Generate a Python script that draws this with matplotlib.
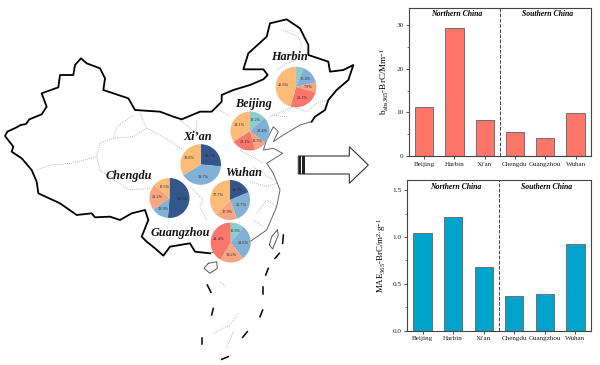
import numpy as np
import matplotlib
matplotlib.use('Agg')
import matplotlib.pyplot as plt
from matplotlib.patches import Polygon

plt.rcParams['font.family'] = 'Liberation Serif'
plt.rcParams['mathtext.fontset'] = 'custom'
plt.rcParams['mathtext.rm'] = 'Liberation Serif'
plt.rcParams['mathtext.it'] = 'Liberation Serif:italic'
plt.rcParams['mathtext.bf'] = 'Liberation Serif:bold'

# bar data
cities = ['Beijing', 'Harbin', "Xi'an", 'Chengdu', 'Guangzhou', 'Wuhan']
babs = [11.3, 29.3, 8.2, 5.4, 4.2, 9.9]
mae = [1.045, 1.21, 0.68, 0.37, 0.39, 0.93]

# pie data, clockwise from 12 o'clock
harbin_vals = [6.0, 15.4, 7.9, 25.1, 45.6]
harbin_lbls = ['', '15.4%', '7.9%', '25.1%', '45.6%']
beijing_vals = [13.2, 22.4, 10.2, 20.1, 34.1]
beijing_lbls = ['13.2%', '22.4%', '10.3%', '20.1%', '34.1%']
xian_vals = [26.5, 39.7, 33.8]
xian_lbls = ['25.7%', '39.7%', '33.8%']
chengdu_vals = [51.3, 13.9, 21.2, 13.6]
chengdu_lbls = ['51.3%', '13.9%', '21.2%', '13.6%']
wuhan_vals = [18.7, 25.7, 17.9, 37.7]
wuhan_lbls = ['18.7%', '25.7%', '17.9%', '37.7%']
guangzhou_vals = [10.9, 28.6, 19.2, 41.4]
guangzhou_lbls = ['10.9%', '28.6%', '19.2%', '41.4%']

NAVY, BLUE, TEAL = '#34568B', '#82B1D5', '#8ACFCB'
SALMON, RED, ORANGE = '#F7A582', '#F9766A', '#FDBB78'

# map outlines, in units of 1/3 pixel
border = [(630, 760), (585, 755), (570, 730), (510, 740), (490, 767), (465, 745), (440, 725), (425, 710), (445, 660),
          (435, 630), (395, 640), (360, 660), (330, 650), (285, 652), (275, 640), (230, 645), (180, 610), (115, 580),
          (110, 545), (95, 510), (65, 475), (35, 455), (40, 440), (15, 408), (22, 395), (50, 382), (62, 375), (78, 372),
          (88, 358), (125, 343), (140, 320), (125, 280), (175, 262), (180, 225), (220, 225), (225, 195), (243, 175),
          (260, 190), (300, 205), (315, 235), (310, 270), (385, 295), (405, 330), (480, 335), (520, 350), (545, 358),
          (600, 335), (635, 335), (665, 305), (665, 285), (700, 270), (750, 255), (790, 238), (803, 225), (790, 208),
          (730, 208), (745, 160), (800, 110), (810, 70), (860, 58), (900, 85), (925, 135), (925, 165), (985, 185),
          (990, 215), (1030, 210), (1060, 195), (1045, 240), (1010, 270), (985, 300), (975, 330), (945, 350), (935, 365)]
coast = [(935, 365), (900, 375), (850, 405), (820, 425), (835, 395), (820, 380), (800, 420), (790, 450), (820, 445),
         (848, 460), (800, 490), (820, 520), (840, 570), (830, 620), (800, 690), (750, 725), (680, 745), (630, 760)]
taiwan = [(832, 690), (815, 710), (808, 735), (818, 747), (835, 705), (832, 690)]
hainan = [(625, 790), (650, 785), (652, 805), (630, 820), (612, 805), (625, 790)]
dashes = [[(850, 705), (848, 730)], [(838, 760), (825, 775)], [(805, 805), (797, 825)], [(788, 860), (788, 882)],
          [(788, 930), (780, 950)], [(742, 995), (728, 1012)], [(685, 1070), (665, 1078)], [(606, 1015), (606, 1033)],
          [(640, 925), (635, 945)], [(622, 855), (633, 877)]]
provinces = [[(110, 510), (150, 495), (215, 490), (290, 470), (300, 430), (340, 415), (350, 380), (400, 345)],
             [(290, 470), (300, 510), (350, 545), (390, 570), (450, 565)],
             [(420, 340), (440, 385), (490, 410), (520, 430), (550, 450)],
             [(340, 415), (400, 410), (440, 385)],
             [(540, 360), (590, 400), (590, 360)],
             [(660, 330), (690, 350)],
             [(810, 350), (880, 320), (920, 335), (950, 310), (985, 300)],
             [(850, 90), (895, 110), (905, 135), (890, 180), (860, 190), (830, 210)],
             [(815, 345), (860, 350)],
             [(780, 440), (720, 450), (790, 490)],
             [(750, 545), (800, 560), (830, 550)],
             [(820, 540), (790, 520), (760, 500)],
             [(620, 660), (600, 620), (610, 600), (570, 560)],
             [(770, 640), (800, 600), (830, 620)],
             [(760, 660), (790, 680)],
             [(660, 845), (675, 858)],
             [(715, 940), (690, 975), (640, 1000)],
             [(700, 995), (680, 1045)]]

fig = plt.figure(figsize=(6, 3.65), dpi=100)
W, H = 600.0, 365.0


def px_axes(left, top, right, bottom):
    return fig.add_axes([left / W, 1 - bottom / H, (right - left) / W, (bottom - top) / H])


m = fig.add_axes([0, 0, 1, 1])
m.set_xlim(0, 1800)
m.set_ylim(1095, 0)
m.axis('off')

for p in provinces:
    m.plot(*zip(*p), color='#a0a0a0', lw=0.6, ls=(0, (1, 1.5)))
m.plot(*zip(*coast), color='#666666', lw=0.7)
m.plot(*zip(*taiwan), color='#555555', lw=0.7)
m.plot(*zip(*hainan), color='#555555', lw=0.7)
m.plot(*zip(*border), color='black', lw=1.3, solid_joinstyle='round')
for d in dashes:
    m.plot(*zip(*d), color='black', lw=1.1)

# big arrow
arrow = [(895, 468), (1048, 468), (1048, 440), (1105, 495), (1048, 550), (1048, 522), (895, 522)]
m.add_patch(Polygon(arrow, closed=True, fc='white', ec='#333333', lw=0.8))
m.fill_between([898, 903], 468, 522, color='#222222', lw=0)
m.fill_between([907, 914], 468, 522, color='#222222', lw=0)

# city names
names = {'Harbin': (869, 171), 'Beijing': (759, 311), "Xi\u2019an": (594, 412), 'Chengdu': (386, 528),
         'Wuhan': (732, 520), 'Guangzhou': (542, 700)}
for n, (x, y) in names.items():
    m.text(x, y, n, fontsize=8.8, fontweight='bold', style='italic', ha='center', va='center', color='#111111')


def draw_pie(cx, cy, r, vals, lbls, cols):
    a = px_axes(cx - r, cy - r, cx + r, cy + r)
    a.pie(vals, labels=lbls, colors=cols, startangle=90, counterclock=False, radius=1.0,
          labeldistance=0.62, textprops={'fontsize': 3.1, 'ha': 'center', 'va': 'center', 'color': '#222222'})
    a.set_xlim(-1, 1)
    a.set_ylim(-1, 1)


draw_pie(296, 87, 20.3, harbin_vals, harbin_lbls, [TEAL, BLUE, SALMON, RED, ORANGE])
draw_pie(250, 131, 19.5, beijing_vals, beijing_lbls, [TEAL, BLUE, SALMON, RED, ORANGE])
draw_pie(200.7, 164.5, 20.3, xian_vals, xian_lbls, [NAVY, BLUE, ORANGE])
draw_pie(169.5, 198, 20, chengdu_vals, chengdu_lbls, [NAVY, BLUE, SALMON, ORANGE])
draw_pie(230, 200, 20, wuhan_vals, wuhan_lbls, [NAVY, BLUE, SALMON, ORANGE])
draw_pie(230.7, 242.5, 20, guangzhou_vals, guangzhou_lbls, [TEAL, BLUE, SALMON, RED])


def draw_bars(a, vals, col, ymax, major, minor, fmt, ylabel, lblsize, lblx):
    a.bar(range(6), vals, width=0.6, color=col, edgecolor='#6f6f6f', linewidth=0.7)
    a.set_xlim(-0.5, 5.5)
    a.set_ylim(0, ymax)
    a.axvline(2.5, color='#444444', ls='--', lw=0.7)
    a.set_xticks(range(6))
    a.set_xticklabels(cities, fontsize=5.1)
    a.set_yticks(major)
    a.set_yticklabels([fmt % v for v in major], fontsize=5.2)
    a.set_yticks(minor, minor=True)
    a.tick_params(axis='both', which='major', length=2.5, width=0.6, pad=1.5, color='#333333', labelcolor='#222222')
    a.tick_params(axis='y', which='minor', length=1.5, width=0.5, color='#333333')
    for s in a.spines.values():
        s.set_linewidth(0.8)
        s.set_color('#444444')
    a.set_ylabel(ylabel, fontsize=lblsize)
    a.yaxis.set_label_coords(lblx, 0.5)
    a.text(0.262, 0.955, 'Northern China', transform=a.transAxes, fontsize=5.6, fontweight='bold', style='italic',
           ha='center', va='center')
    a.text(0.762, 0.955, 'Southern China', transform=a.transAxes, fontsize=5.6, fontweight='bold', style='italic',
           ha='center', va='center')


top = px_axes(409, 7.5, 590.7, 156)
draw_bars(top, babs, '#FF7567', 34.1, [0, 10, 20, 30], [5, 15, 25], '%d', r'b$_{\mathrm{abs365}}$-BrC/Mm$^{-1}$', 6.6, -0.1)
bot = px_axes(407.3, 180.3, 590.7, 330.7)
draw_bars(bot, mae, '#00A3CC', 1.605, [0, 0.5, 1.0, 1.5], [0.25, 0.75, 1.25], '%.1f',
          r'MAE$_{365}$-BrC/m$^{2}$$\cdot$g$^{-1}$', 6.4, -0.105)

plt.savefig('out.png', dpi=100)
